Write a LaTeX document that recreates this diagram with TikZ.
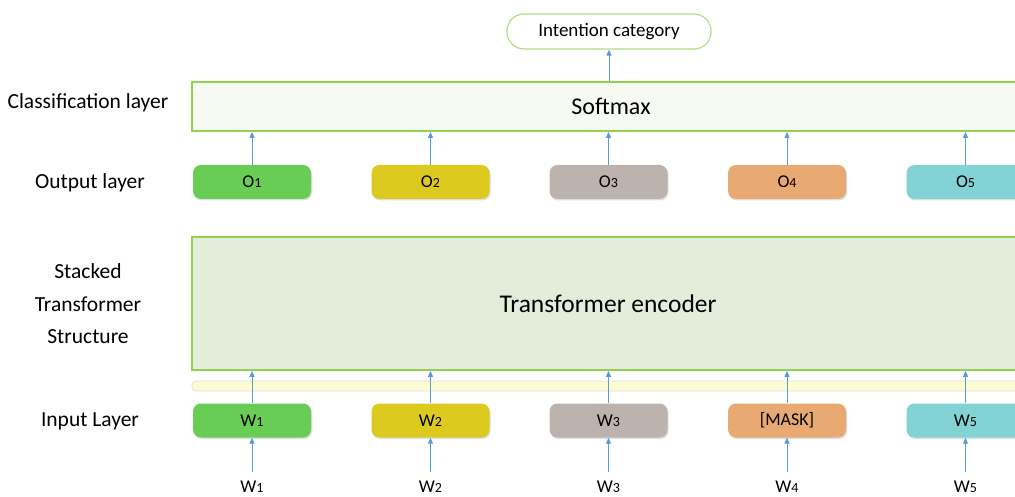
\documentclass[tikz,border=0pt]{standalone}
\usepackage{fontspec}
\setmainfont{Carlito}
\usetikzlibrary{arrows.meta,shadows}
\definecolor{arr}{HTML}{5B9BD5}
\definecolor{lgreen}{HTML}{92D050}
\definecolor{softfill}{HTML}{F6FAF2}
\definecolor{encfill}{HTML}{E2EED9}
\definecolor{cA}{HTML}{68CC55}
\definecolor{cB}{HTML}{DCCB1E}
\definecolor{cC}{HTML}{BDB3AE}
\definecolor{cD}{HTML}{E8AA72}
\definecolor{cE}{HTML}{82D2D6}
\definecolor{ybar}{HTML}{FDFBD2}
\newcommand{\fs}[1]{\fontsize{#1}{#1}\selectfont}
\newcommand{\tok}[2]{#1{\fs{14}#2}}
\begin{document}
\begin{tikzpicture}[x=1pt,y=-1pt,
  arrowline/.style={draw=arr, line width=0.9pt, -{Triangle[length=6pt,width=5pt]}},
  layerbox/.style={draw=lgreen, line width=1.8pt, inner sep=0pt},
  tokbox/.style={rounded corners=8pt, minimum width=118pt, minimum height=34pt, inner sep=0pt,
     font=\fs{18}, drop shadow={shadow xshift=1pt, shadow yshift=-1.5pt, opacity=0.25}},
  sidelabel/.style={font=\fs{21.5}, align=center, inner sep=0pt},
  wlabel/.style={font=\fs{18}, inner sep=0pt}]
\clip (0,0) rectangle (1015,497);
\fill[white] (0,0) rectangle (1015,497);

% intention category
\node[draw=lgreen!70!white, line width=1.2pt, rounded corners=17pt, fill=white,
  minimum width=204pt, minimum height=35pt, inner sep=0pt, font=\fs{19}]
  (intent) at (609,31.5) {Intention category};

% softmax layer
\node[layerbox, fill=softfill, minimum width=838pt, minimum height=49pt, font=\fs{24}]
  (soft) at (611,106.5) {Softmax};

% encoder
\node[layerbox, fill=encfill, minimum width=832pt, minimum height=133pt, font=\fs{25.5}]
  (enc) at (608,303.5) {Transformer encoder};

% yellow bar
\node[draw=black!12, line width=0.8pt, fill=ybar, rounded corners=4pt,
  minimum width=840pt, minimum height=10pt, inner sep=0pt] (bar) at (612,386) {};

% side labels
\node[sidelabel] (lcls) at (88,103) {Classification layer};
\node[sidelabel] (lout) at (90,183) {Output layer};
\node[sidelabel] (lstk) at (88,304) {Stacked\\[11pt]Transformer\\[11pt]Structure};
\node[sidelabel] (lin) at (90,421) {Input Layer};

% output tokens
\node[tokbox, fill=cA] (o1) at (252,182) {\tok{O}{1}};
\node[tokbox, fill=cB] (o2) at (430.5,182) {\tok{O}{2}};
\node[tokbox, fill=cC] (o3) at (608.5,182) {\tok{O}{3}};
\node[tokbox, fill=cD] (o4) at (787,182) {\tok{O}{4}};
\node[tokbox, fill=cE] (o5) at (965.5,182) {\tok{O}{5}};

% input tokens
\node[tokbox, fill=cA] (i1) at (252,420.5) {\tok{W}{1}};
\node[tokbox, fill=cB] (i2) at (430.5,420.5) {\tok{W}{2}};
\node[tokbox, fill=cC] (i3) at (608.5,420.5) {\tok{W}{3}};
\node[tokbox, fill=cD] (i4) at (787,420.5) {[MASK]};
\node[tokbox, fill=cE] (i5) at (965.5,420.5) {\tok{W}{5}};

% bottom words
\foreach \n/\x in {1/252,2/430.5,3/608.5,4/787,5/965.5}{
  \coordinate (s\n) at (\x,472);
  \node[wlabel] (w\n) at (\x,487) {\tok{W}{\n}};
  \draw[arrowline] (s\n) -- (i\n.south);
  \draw[arrowline] (i\n.north) -- (i\n.north |- enc.south);
  \draw[arrowline] (o\n.north) -- (o\n.north |- soft.south);
}

\draw[arrowline] (soft.north -| intent.south) -- (intent.south);
\end{tikzpicture}
\end{document}
